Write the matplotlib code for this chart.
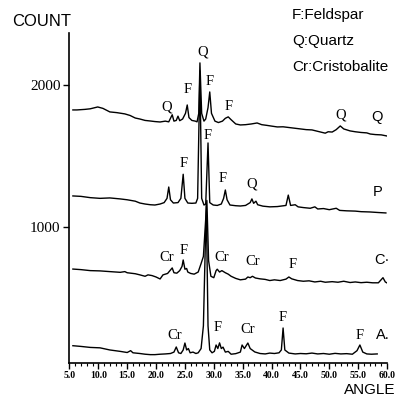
import matplotlib.pyplot as plt

# XRD patterns (angle in degrees 2-theta, intensity in counts)
q_angle = [5.6, 6.3, 7.7, 8.6, 9.9, 10.8, 12.0, 13.2, 14.6, 15.5, 16.4, 17.2, 18.1, 19.0, 19.8,
           20.7, 21.6, 22.2, 22.8, 23.1, 23.5, 23.8, 24.1, 24.6, 25.1, 25.4, 25.7, 26.2, 26.8,
           27.1, 27.4, 27.6, 27.9, 28.3, 28.6, 29.0, 29.3, 29.6, 30.2, 30.8, 31.5, 32.0, 32.5,
           33.0, 33.8, 34.6, 35.5, 36.5, 37.5, 38.3, 39.2, 40.0, 41.0, 42.0, 43.0, 44.0, 45.0,
           46.0, 47.0, 48.4, 49.3, 49.8, 50.5, 51.2, 51.9, 52.5, 53.6, 54.5, 55.5, 56.5, 57.1,
           58.0, 59.0, 60.0]
q_count = [1824, 1824, 1828, 1832, 1845, 1835, 1810, 1805, 1796, 1785, 1767, 1760, 1750, 1746, 1742,
           1739, 1745, 1740, 1790, 1745, 1750, 1780, 1748, 1760, 1800, 1859, 1770, 1750, 1745,
           1740, 1800, 2156, 1800, 1745, 1760, 1840, 1951, 1800, 1745, 1735, 1745, 1765, 1775,
           1755, 1725, 1718, 1720, 1725, 1732, 1720, 1715, 1710, 1704, 1705, 1700, 1695, 1690,
           1685, 1683, 1669, 1660, 1670, 1668, 1685, 1711, 1690, 1676, 1670, 1665, 1662, 1654,
           1650, 1648, 1640]

p_angle = [5.6, 7.0, 8.6, 10.3, 12.0, 13.8, 15.0, 16.4, 17.2, 18.1, 19.0, 19.8, 20.7, 21.4, 21.9,
           22.2, 22.5, 23.0, 23.8, 24.3, 24.7, 25.0, 25.5, 26.2, 26.9, 27.2, 27.6, 27.9, 28.3,
           28.6, 29.0, 29.3, 29.9, 30.6, 31.3, 31.7, 32.0, 32.3, 32.8, 33.8, 34.6, 35.5, 36.3,
           36.6, 36.9, 37.3, 37.6, 38.5, 39.7, 41.0, 42.5, 42.9, 43.3, 44.1, 44.6, 45.5, 46.7,
           47.5, 48.0, 49.0, 50.0, 51.2, 51.8, 53.0, 54.5, 55.5, 57.0, 58.5, 59.8]
p_count = [1217, 1214, 1205, 1200, 1203, 1196, 1190, 1180, 1167, 1160, 1155, 1153, 1160, 1170, 1200,
           1280, 1190, 1167, 1170, 1200, 1370, 1200, 1167, 1165, 1167, 1200, 2100, 1200, 1153,
           1160, 1591, 1170, 1153, 1150, 1160, 1200, 1259, 1190, 1153, 1148, 1146, 1150, 1170,
           1196, 1165, 1180, 1155, 1145, 1140, 1142, 1150, 1223, 1150, 1155, 1140, 1135, 1130,
           1140, 1125, 1128, 1120, 1130, 1115, 1112, 1110, 1106, 1104, 1100, 1097]

c_angle = [5.6, 7.0, 8.6, 10.3, 12.0, 13.8, 14.6, 15.0, 16.4, 17.2, 18.1, 18.6, 19.3, 20.0, 20.7,
           21.2, 22.0, 22.8, 23.1, 23.6, 24.1, 24.5, 24.7, 25.0, 25.3, 25.5, 26.0, 26.6, 27.3,
           27.8, 28.2, 28.8, 29.1, 29.5, 30.0, 30.4, 30.6, 31.0, 31.4, 32.0, 32.5, 33.0, 33.8,
           34.6, 35.5, 35.9, 36.3, 36.7, 37.2, 38.0, 38.9, 39.7, 40.5, 41.5, 42.5, 43.0, 43.5,
           44.5, 45.5, 46.5, 47.5, 48.5, 49.3, 50.5, 51.5, 52.5, 53.6, 54.5, 55.5, 56.5, 57.5,
           58.5, 59.3, 59.7, 60.0]
c_count = [701, 697, 690, 688, 683, 678, 683, 675, 668, 660, 650, 660, 655, 645, 631,
           660, 670, 709, 675, 672, 690, 720, 765, 700, 705, 680, 670, 665, 680,
           740, 790, 1185, 760, 650, 640, 690, 700, 680, 690, 675, 665, 650, 635,
           625, 630, 645, 640, 650, 638, 632, 628, 620, 625, 620, 630, 645, 632,
           620, 615, 618, 610, 615, 608, 612, 608, 615, 606, 610, 605, 608, 604,
           604, 640, 610, 603]

a_angle = [5.6, 7.0, 8.6, 10.3, 12.0, 13.8, 15.0, 15.6, 16.0, 17.2, 18.1, 19.0, 19.8, 20.7, 21.6,
           22.5, 23.1, 23.5, 23.9, 24.3, 24.7, 25.0, 25.3, 25.6, 25.9, 26.4, 26.9, 27.3, 27.8,
           28.2, 28.7, 29.0, 29.3, 29.7, 30.1, 30.4, 30.7, 31.0, 31.3, 31.6, 32.0, 32.5, 33.0,
           33.8, 34.6, 34.9, 35.3, 35.9, 36.3, 37.1, 38.0, 38.9, 39.7, 40.5, 41.3, 41.7, 42.0,
           42.3, 43.0, 44.1, 45.0, 46.0, 47.0, 48.0, 49.0, 50.0, 51.0, 52.0, 53.0, 54.0, 54.8,
           55.3, 55.8, 56.5, 57.3, 58.3]
a_count = [160, 155, 148, 145, 130, 120, 112, 125, 110, 105, 100, 97, 97, 100, 102,
           105, 115, 151, 110, 105, 130, 179, 130, 140, 110, 115, 105, 110, 140,
           300, 1160, 300, 130, 110, 120, 165, 140, 180, 140, 150, 115, 120, 100,
           104, 115, 165, 140, 179, 140, 116, 105, 102, 108, 105, 110, 130, 285,
           130, 108, 102, 105, 103, 108, 102, 105, 100, 106, 102, 104, 100, 125,
           165, 115, 102, 100, 102]

# peak labels: (text, angle, count)
q_marks = [('Q', 21.9, 1845), ('F', 25.4, 1965), ('Q', 28.0, 2233), ('F', 29.3, 2022),
           ('F', 32.5, 1845), ('Q', 51.9, 1789)]
p_marks = [('F', 24.7, 1443), ('F', 29.0, 1647), ('F', 31.6, 1337), ('Q', 36.5, 1301)]
c_marks = [('Cr', 21.9, 786), ('F', 24.7, 835), ('Cr', 31.4, 786), ('Cr', 36.8, 751),
           ('F', 43.6, 730)]
a_marks = [('Cr', 23.3, 235), ('F', 30.7, 292), ('Cr', 35.9, 271), ('F', 42.0, 362),
           ('F', 55.3, 235)]
# sample names at the right end of each pattern
sample_names = [('Q', 58.3, 1775), ('P', 58.3, 1245), ('C·', 59.2, 765), ('A.', 59.3, 235)]

legend_lines = ['F:Feldspar', 'Q:Quartz', 'Cr:Cristobalite']
x_ticks = [5, 10, 15, 20, 25, 30, 35, 40, 45, 50, 55, 60]
y_ticks = [1000, 2000]

fig = plt.figure(figsize=(3.99, 4.0), dpi=100)
ax = fig.add_axes([0.174, 0.0925, 0.796, 0.825])

for angle, count in [(q_angle, q_count), (p_angle, p_count), (c_angle, c_count), (a_angle, a_count)]:
    ax.plot(angle, count, color='k', lw=1.0)

for marks in [q_marks, p_marks, c_marks, a_marks]:
    for txt, angle, count in marks:
        ax.text(angle, count, txt, ha='center', va='center', family='Liberation Serif', fontsize=10.5)
for txt, angle, count in sample_names:
    ax.text(angle, count, txt, ha='center', va='center', family='Liberation Sans', fontsize=10.5)

ax.set_xlim(5, 60)
ax.set_ylim(38, 2367)
ax.spines['top'].set_visible(False)
ax.spines['right'].set_visible(False)
ax.spines['left'].set_linewidth(1.2)
ax.spines['bottom'].set_linewidth(1.2)

ax.set_xticks(x_ticks)
ax.set_xticklabels(['{:.1f}'.format(t) for t in x_ticks], family='Liberation Serif',
                   fontsize=7, fontweight='bold')
ax.set_xticks(range(5, 61), minor=True)
ax.tick_params(axis='x', which='major', length=4, width=1, pad=2)
ax.tick_params(axis='x', which='minor', length=2.5, width=0.8)
ax.set_yticks(y_ticks)
ax.set_yticklabels([str(t) for t in y_ticks], family='Liberation Serif', fontsize=11)
ax.tick_params(axis='y', length=4.5, width=1, pad=2)

fig.text(12 / 399, 1 - 21 / 400, 'COUNT', ha='left', va='center', family='Liberation Sans', fontsize=12)
fig.text(395 / 399, 1 - 390 / 400, 'ANGLE', ha='right', va='center', family='Liberation Sans', fontsize=11)
for i, line in enumerate(legend_lines):
    fig.text(292 / 399, 1 - (15 + 26 * i) / 400, line, ha='left', va='center',
             family='Liberation Sans', fontsize=11)

fig.savefig('out.png', dpi=100)
